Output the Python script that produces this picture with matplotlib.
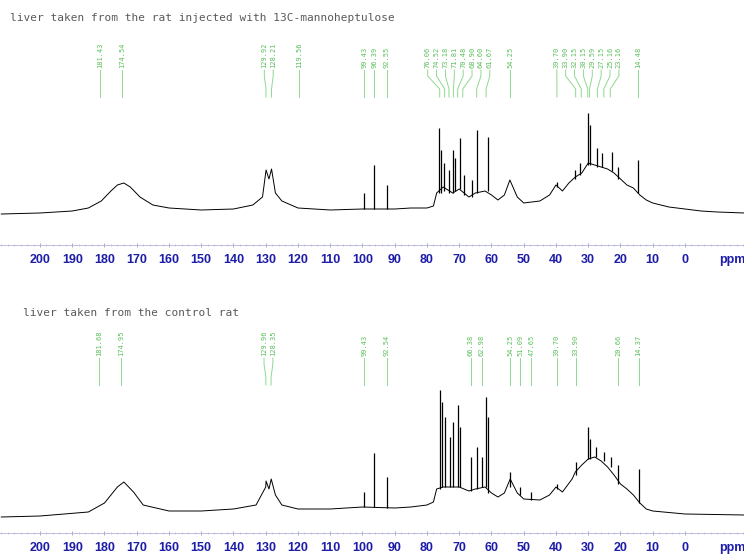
import numpy as np
import matplotlib.pyplot as plt
from matplotlib.ticker import MultipleLocator

# ---- data (intensity = pixels above baseline) ----
top_title = "liver taken from the rat injected with 13C-mannoheptulose"
bot_title = "liver taken from the control rat"

top_env_ppm = [212, 200, 190, 185, 181, 178, 176, 174, 172, 169, 165, 160, 150, 140, 134, 131,
               129.9, 129, 128.2, 127, 125, 120, 110, 100, 90, 85, 80, 78, 77, 75, 72, 70, 67,
               65, 62, 60, 58, 56, 54.3, 52, 50, 45, 42, 40, 38, 36, 34, 32, 30, 28, 26, 24,
               22, 20, 18, 16, 14, 12, 10, 5, 0, -5, -10, -18.5]
top_env_int = [1, 2, 4, 7, 14, 24, 30, 32, 28, 18, 10, 7, 5, 6, 10, 18,
               45, 36, 46, 22, 14, 7, 5, 6, 6, 7, 7, 9, 22, 28, 22, 26, 18,
               22, 24, 20, 15, 20, 35, 18, 12, 14, 20, 30, 24, 32, 38, 42, 52, 50, 48, 46,
               42, 36, 30, 27, 20, 15, 12, 8, 6, 4, 3, 2]
top_spk_ppm = [99.43, 96.39, 92.55, 76.2, 75.7, 74.6, 73.1, 71.8, 71.4, 69.8, 68.5, 66.0,
               64.4, 61.2, 39.8, 34.0, 32.5, 30.1, 29.4, 27.4, 25.7, 22.7, 20.7, 14.6]
top_spk_lo = [6, 6, 6, 22, 22, 24, 22, 22, 24, 26, 20, 18,
              22, 24, 28, 36, 40, 50, 50, 48, 48, 44, 36, 22]
top_spk_hi = [22, 50, 30, 87, 65, 52, 45, 65, 57, 77, 40, 35,
              85, 78, 33, 45, 52, 102, 90, 67, 62, 63, 48, 55]
top_lab_ppm = [181.43, 174.54, 129.92, 128.21, 119.56, 99.43, 96.39, 92.55,
               76.06, 74.52, 73.18, 71.81, 70.48, 68.90, 64.60, 61.67, 54.25,
               39.70, 33.90, 32.15, 30.15, 29.59, 27.15, 25.16, 23.16, 14.48]

bot_env_ppm = [212, 200, 185, 180, 176, 174, 171, 168, 160, 150, 140, 133, 130, 129.9, 129,
               128.3, 127, 125, 120, 110, 100, 90, 85, 80, 78, 77, 75, 70, 67, 65, 62, 60,
               58, 56, 54.2, 52, 50, 45, 42, 40, 38, 35, 34, 32, 30, 28, 26, 24, 22, 20,
               18, 16, 14, 12, 10, 0, -18.5]
bot_env_int = [0, 1, 5, 14, 30, 35, 25, 12, 6, 6, 8, 12, 30, 36, 28,
               38, 22, 12, 8, 8, 10, 9, 10, 12, 15, 28, 30, 30, 26, 28, 30, 24,
               20, 24, 38, 24, 18, 17, 22, 30, 25, 38, 45, 52, 58, 60, 56, 50, 42, 33,
               28, 22, 14, 8, 6, 3, 2]
bot_spk_ppm = [99.43, 96.4, 92.5, 76.0, 75.3, 74.5, 73.0, 72.0, 70.5, 69.8, 66.4, 64.5,
               62.9, 61.67, 61.2, 54.25, 51.1, 47.65, 39.7, 33.9, 30.1, 29.5, 27.5, 25.0,
               23.0, 20.66, 14.37]
bot_spk_lo = [10, 10, 9, 28, 30, 30, 30, 30, 30, 30, 26, 28,
              30, 30, 24, 30, 22, 17, 28, 42, 58, 58, 60, 56,
              50, 33, 14]
bot_spk_hi = [25, 64, 40, 127, 115, 100, 80, 95, 112, 90, 60, 70,
              60, 120, 100, 45, 30, 25, 33, 55, 90, 78, 70, 65,
              60, 52, 48]
bot_lab_ppm = [181.68, 174.95, 129.96, 128.35, 99.43, 92.54, 66.38, 62.98,
               54.25, 51.09, 47.65, 39.70, 33.90, 20.66, 14.37]

ticks = list(range(200, -1, -10))

tick_blue = '#1c1ca8'
lab_green = '#5cbf5c'
line_green = '#8fd88f'


def spread(pos, gap):
    # push labels apart so they do not overlap
    lp = list(pos)
    for _ in range(400):
        for i in range(len(lp) - 1):
            d = lp[i] - lp[i + 1]
            if d < gap:
                s = (gap - d) / 2
                lp[i] += s
                lp[i + 1] -= s
    return lp


def draw_panel(ax, env_ppm, env_int, spk_ppm, spk_lo, spk_hi, lab_ppm, title, title_x, title_y,
               txt_y, ln_top, ln_bot, ppm_y):
    ax.plot(env_ppm, env_int, color='black', lw=0.7)
    ax.vlines(spk_ppm, spk_lo, spk_hi, color='black', lw=0.9)

    lp = spread(lab_ppm, 2.75)
    for p, l in zip(lab_ppm, lp):
        ax.plot([l, l, p, p], [ln_top, ln_top - 6, ln_bot + 8, ln_bot], color=line_green, lw=0.7)
        ax.text(l, txt_y, f"{p:.2f}", rotation=90, ha='center', va='bottom',
                family='DejaVu Sans Mono', fontsize=5, color=lab_green)

    ax.text(title_x, title_y, title, family='DejaVu Sans Mono', fontsize=8, color='#5a5a5a',
            va='center', ha='left')
    ax.text(-14.6, ppm_y, 'ppm', family='Liberation Sans', fontweight='bold', fontsize=9,
            color=tick_blue, ha='center', va='center')

    ax.set_xlim(212.4, -18.3)
    ax.set_xticks(ticks)
    ax.xaxis.set_minor_locator(MultipleLocator(2))
    ax.tick_params(axis='x', which='major', direction='inout', length=3, width=0.6,
                   color='#9a9ad0', pad=5, labelcolor=tick_blue)
    ax.tick_params(axis='x', which='minor', direction='inout', length=2, width=0.5, color='#b4b4dc')
    for t in ax.get_xticklabels():
        t.set_fontfamily('Liberation Sans')
        t.set_fontweight('bold')
        t.set_fontsize(9)
    ax.set_yticks([])
    for s in ['top', 'left', 'right']:
        ax.spines[s].set_visible(False)
    ax.spines['bottom'].set_color('#b4b4dc')
    ax.spines['bottom'].set_linewidth(0.6)
    ax.patch.set_alpha(0)


fig = plt.figure(figsize=(7.44, 5.55), dpi=100)

ax1 = fig.add_axes([0, 310 / 555, 1, 245 / 555])
ax1.set_ylim(-30, 215)
draw_panel(ax1, top_env_ppm, top_env_int, top_spk_ppm, top_spk_lo, top_spk_hi, top_lab_ppm,
           top_title, 209.3, 197, 147, 145, 118, -45)

ax2 = fig.add_axes([0, 22 / 555, 1, 243 / 555])
ax2.set_ylim(-16, 227)
draw_panel(ax2, bot_env_ppm, bot_env_int, bot_spk_ppm, bot_spk_lo, bot_spk_hi, bot_lab_ppm,
           bot_title, 205.3, 204, 161, 159, 132, -31)

fig.savefig('out.png', dpi=100)
